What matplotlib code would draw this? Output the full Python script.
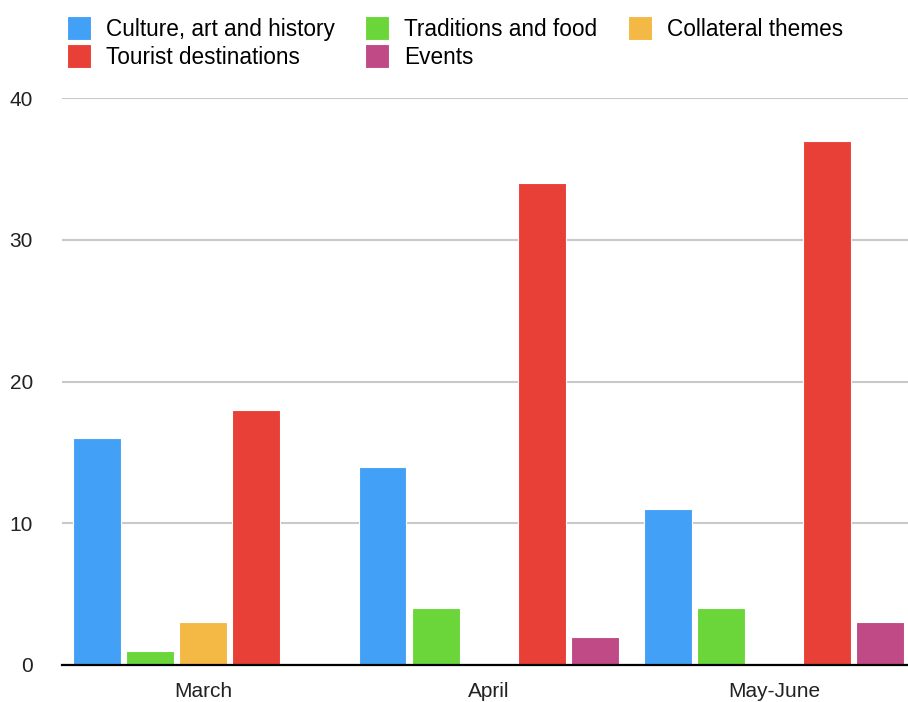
import matplotlib.pyplot as plt
import numpy as np

plt.rcParams['font.family'] = ['Liberation Sans', 'DejaVu Sans']

months = ['March', 'April', 'May-June']
themes = ['Culture, art and history', 'Traditions and food', 'Collateral themes',
          'Tourist destinations', 'Events']
culture = [16, 14, 11]
traditions = [1, 4, 4]
collateral = [3, 0, 0]
tourist = [18, 34, 37]
events = [0, 2, 3]
colors = ['#42a0f6', '#6ad63a', '#f4b845', '#e83f36', '#c04a86']

series = [culture, traditions, collateral, tourist, events]

fig = plt.figure(figsize=(9.08, 7.02), dpi=100)
ax = fig.add_axes([62 / 908, 37 / 702, 846 / 908, 567 / 702])

x = np.arange(len(months))
step = 0.1857
width = 0.168
handles = []
for i, (vals, c) in enumerate(zip(series, colors)):
    b = ax.bar(x + (i - 2) * step, vals, width, color=c, edgecolor='#ffffff',
               linewidth=0.8, zorder=3)
    handles.append(b)

ax.set_xlim(-0.4939, 2.469)
ax.set_ylim(0, 40)
ax.set_yticks([0, 10, 20, 30, 40])
ax.set_xticks(x)
ax.set_xticklabels(months)
ax.yaxis.grid(True, color='#c9c9c9', linewidth=1.5, zorder=0)
ax.tick_params(axis='both', length=0, labelsize=15, colors='#222222')
ax.tick_params(axis='y', pad=21)
ax.tick_params(axis='x', pad=12)
for s in ['top', 'right', 'left']:
    ax.spines[s].set_visible(False)
ax.spines['bottom'].set_color('#000000')
ax.spines['bottom'].set_linewidth(1.6)
ax.spines['bottom'].set_zorder(4)

# row-major legend order across three columns
order = [0, 3, 1, 4, 2]
fig.legend([handles[k] for k in order], [themes[k] for k in order],
           loc='upper left', bbox_to_anchor=(67 / 908, 1 - 16 / 702), ncol=3,
           frameon=False, fontsize=16.3, handlelength=1.07, handleheight=1.25,
           handletextpad=0.66, columnspacing=1.33, labelspacing=0.15,
           borderaxespad=0, borderpad=0)

fig.savefig('out.png', dpi=100)
